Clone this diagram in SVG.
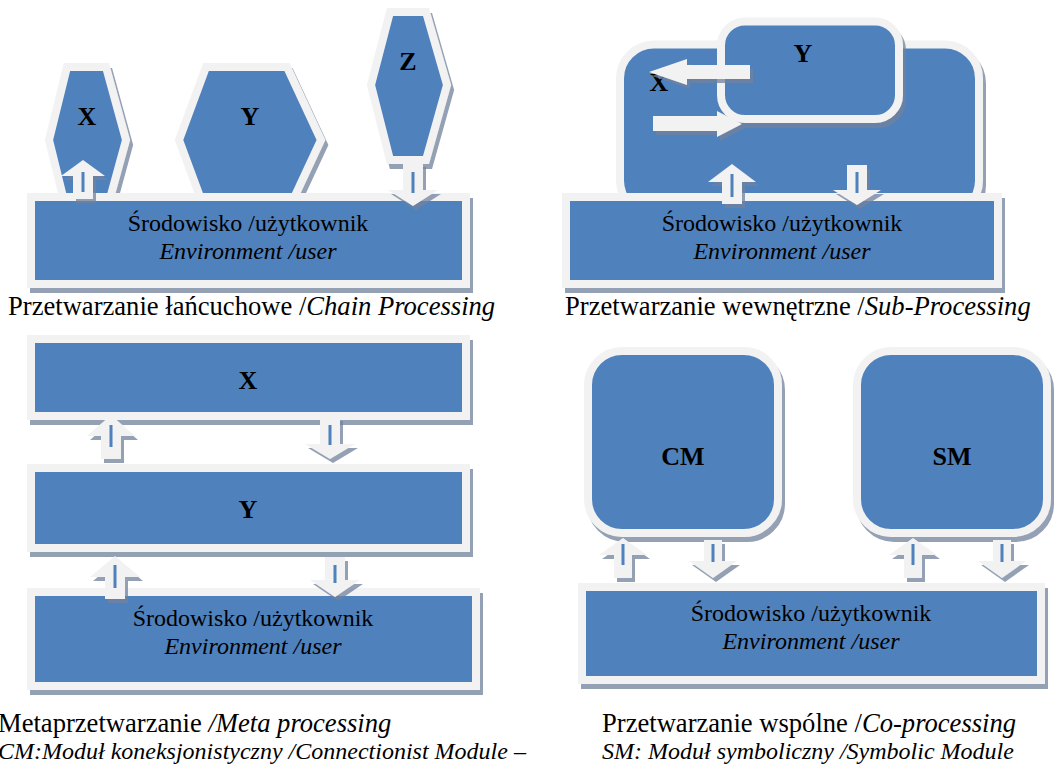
<svg xmlns="http://www.w3.org/2000/svg" width="1058" height="766" viewBox="0 0 1058 766" font-family="'Liberation Serif', Tinos, 'DejaVu Serif', 'Times New Roman', serif">
<defs>
<filter id="sh" x="-10%" y="-10%" width="130%" height="130%">
<feDropShadow dx="3" dy="5" stdDeviation="0.6" flood-color="#6f819c" flood-opacity="0.75"/>
</filter>
<filter id="sh2" x="-20%" y="-20%" width="150%" height="150%">
<feDropShadow dx="3" dy="4" stdDeviation="0.6" flood-color="#6f819c" flood-opacity="0.75"/>
</filter>
</defs>
<style>
.box{fill:#4f81bd;stroke:#f2f2f2;stroke-width:8;filter:url(#sh)}
.arr{fill:#f2f2f2;filter:url(#sh2)}
.st{stroke:#4f81bd;stroke-width:3}
text{font-family:'Liberation Serif', Tinos, 'DejaVu Serif', 'Times New Roman', serif;fill:#000}
.lbl{font-weight:bold;font-size:26px;text-anchor:middle}
.env{font-size:24px;text-anchor:middle}
.cap{font-size:26.6px}
.note{font-size:24px;font-style:italic}
.it{font-style:italic}
</style>
<rect width="1058" height="766" fill="#fff"/>

<!-- Chain processing -->
<g id="chain-X">
<polygon class="box" points="67,67 106,67 126,140 106,213 67,213 49,140"/>
<text class="lbl" x="87" y="125">X</text>
</g>
<g id="chain-Y">
<polygon class="box" points="206,67 287,67 321,140 287,213 206,213 179,140"/>
<text class="lbl" x="250" y="125">Y</text>
</g>
<g id="chain-Z">
<polygon class="box" points="390,12 426,12 447,85 426,160 390,160 371,85"/>
<text class="lbl" x="408" y="70">Z</text>
</g>
<g id="chain-env">
<rect class="box" x="31" y="197" width="435" height="87"/>
<text class="env" x="248" y="231">Środowisko /użytkownik</text>
<text class="env it" x="248" y="259">Environment /user</text>
</g>

<!-- Sub-processing -->
<g id="sub-X">
<rect class="box" x="620" y="44.5" width="359" height="170" rx="34"/>
<text class="lbl" x="659" y="91">X</text>
</g>
<g id="sub-Y">
<rect class="box" x="721" y="21.5" width="178" height="97.5" rx="24"/>
<text class="lbl" x="803" y="62">Y</text>
</g>
<g id="sub-env">
<rect class="box" x="566" y="197" width="432" height="87"/>
<text class="env" x="782" y="231">Środowisko /użytkownik</text>
<text class="env it" x="782" y="259">Environment /user</text>
</g>

<!-- Meta processing -->
<g id="meta-X">
<rect class="box" x="31" y="339" width="435" height="77"/>
<text class="lbl" x="248" y="389">X</text>
</g>
<g id="meta-Y">
<rect class="box" x="31" y="468" width="435" height="80"/>
<text class="lbl" x="248" y="518">Y</text>
</g>
<g id="meta-env">
<rect class="box" x="31" y="592" width="445" height="94"/>
<text class="env" x="253" y="626">Środowisko /użytkownik</text>
<text class="env it" x="253" y="654">Environment /user</text>
</g>

<!-- Co-processing -->
<g id="co-CM">
<rect class="box" x="588" y="351" width="190" height="182" rx="34"/>
<text class="lbl" x="683" y="465">CM</text>
</g>
<g id="co-SM">
<rect class="box" x="857" y="351" width="190" height="182" rx="34"/>
<text class="lbl" x="952" y="465">SM</text>
</g>
<g id="co-env">
<rect class="box" x="582" y="587" width="459" height="93"/>
<text class="env" x="811" y="621">Środowisko /użytkownik</text>
<text class="env it" x="811" y="649">Environment /user</text>
</g>

<g id="connectors">
<!-- chain -->
<polygon class="arr" points="83,160 105,176 93,176 93,199 73,199 73,176 61,176"/>
<line class="st" x1="83" y1="172" x2="83" y2="192"/>
<polygon class="arr" points="403,163 423,163 423,190 438,190 413,206 388,190 403,190"/>
<line class="st" x1="413" y1="172" x2="413" y2="193"/>
<!-- sub -->
<polygon class="arr" points="649,72 687,59 687,65 750,65 750,79 687,79 687,85"/>
<polygon class="arr" points="653,116 717,116 717,111 742,124 717,137 717,131 653,131"/>
<polygon class="arr" points="732,164 756,182 742,182 742,204 722,204 722,182 708,182"/>
<line class="st" x1="732" y1="174" x2="732" y2="197"/>
<polygon class="arr" points="847,165 867,165 867,190 881,190 857,205 833,190 847,190"/>
<line class="st" x1="857" y1="172" x2="857" y2="193"/>
<!-- meta -->
<polygon class="arr" points="111,415 135,436 121,436 121,459 101,459 101,436 87,436"/>
<line class="st" x1="111" y1="425" x2="111" y2="447"/>
<polygon class="arr" points="320,417 340,417 340,444 355,444 330,459 305,444 320,444"/>
<line class="st" x1="330" y1="425" x2="330" y2="445"/>
<polygon class="arr" points="115,556 140,577 125,577 125,599 105,599 105,577 90,577"/>
<line class="st" x1="115" y1="565" x2="115" y2="588"/>
<polygon class="arr" points="325,557 345,557 345,580 360,580 335,597 310,580 325,580"/>
<line class="st" x1="335" y1="565" x2="335" y2="583"/>
<!-- co -->
<polygon class="arr" points="623,538 647,555 632,555 632,578 614,578 614,555 599,555"/>
<line class="st" x1="623" y1="544" x2="623" y2="565"/>
<polygon class="arr" points="704,540 722,540 722,561 737,561 713,578 689,561 704,561"/>
<line class="st" x1="713" y1="544" x2="713" y2="562"/>
<polygon class="arr" points="913,538 937,555 922,555 922,578 904,578 904,555 889,555"/>
<line class="st" x1="913" y1="544" x2="913" y2="565"/>
<polygon class="arr" points="993,540 1011,540 1011,561 1026,561 1002,578 978,561 993,561"/>
<line class="st" x1="1002" y1="544" x2="1002" y2="562"/>
</g>

<g id="captions">
<text class="cap" x="8" y="315">Przetwarzanie łańcuchowe /<tspan class="it">Chain Processing</tspan></text>
<text class="cap" x="565" y="315">Przetwarzanie wewnętrzne /<tspan class="it">Sub-Processing</tspan></text>
<text class="cap" x="-2" y="732">Metaprzetwarzanie <tspan class="it">/Meta processing</tspan></text>
<text class="note" x="-2" y="759">CM:Moduł koneksjonistyczny /Connectionist Module –</text>
<text class="cap" x="602" y="732">Przetwarzanie wspólne /<tspan class="it">Co-processing</tspan></text>
<text class="note" x="602" y="759">SM: Moduł symboliczny /Symbolic Module</text>
</g>
</svg>
